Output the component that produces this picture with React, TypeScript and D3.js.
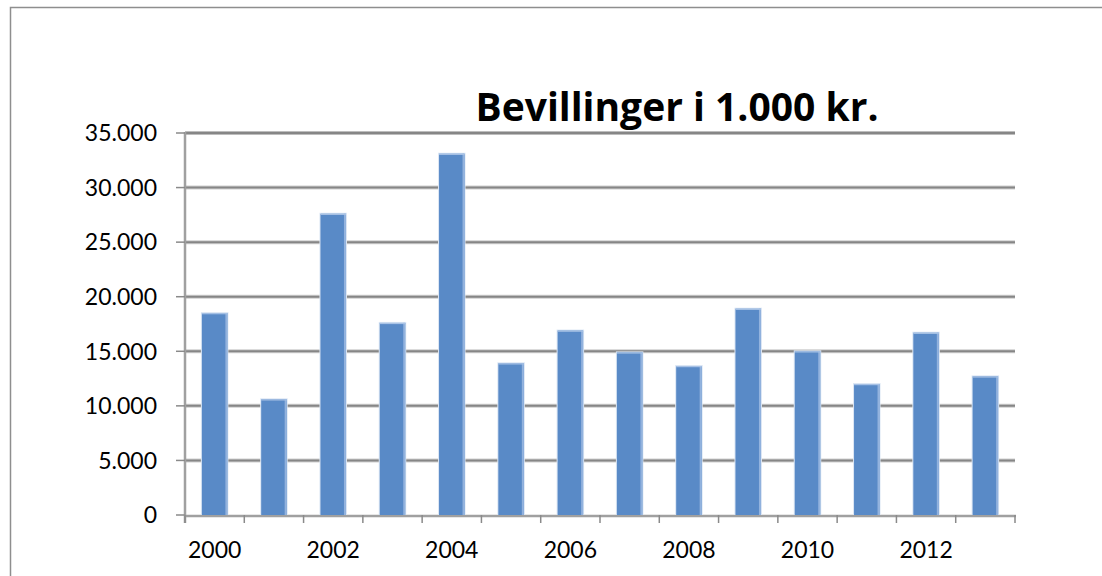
import React, { useEffect, useRef } from 'react';
import * as d3 from 'd3';

const years = ['2000', '2001', '2002', '2003', '2004', '2005', '2006', '2007', '2008', '2009', '2010', '2011', '2012', '2013'];
const values = [18500, 10600, 27600, 17600, 33100, 13900, 16900, 14900, 13650, 18900, 15000, 12000, 16700, 12700];
const yTicks = [0, 5000, 10000, 15000, 20000, 25000, 30000, 35000];
const xLabels = ['2000', '2002', '2004', '2006', '2008', '2010', '2012'];
const title = 'Bevillinger i 1.000 kr.';

const W = 1102;
const H = 576;

export default function App() {
  const ref = useRef<SVGSVGElement>(null);

  useEffect(() => {
    const svg = d3.select(ref.current);
    svg.selectAll('*').remove();

    const left = 185, right = 1015, top = 133, bottom = 515;
    const font = 'Lato, "Open Sans", sans-serif';

    // outer chart border (only top and left visible)
    svg.append('path')
      .attr('d', `M10.5,${H} L10.5,7.5 L${W},7.5`)
      .attr('fill', 'none')
      .attr('stroke', '#8e8e8e')
      .attr('stroke-width', 1.5);

    const x = d3.scaleBand<string>()
      .domain(years)
      .range([left, right])
      .paddingInner(0.57)
      .paddingOuter(0.285);

    const y = d3.scaleLinear()
      .domain([0, 35000])
      .range([bottom, top]);

    // gridlines
    const grid = svg.append('g');
    yTicks.filter(t => t > 0).forEach(t => {
      grid.append('line')
        .attr('x1', left).attr('x2', right)
        .attr('y1', y(t)).attr('y2', y(t))
        .attr('stroke', '#cfcfcf').attr('stroke-width', 4);
      grid.append('line')
        .attr('x1', left).attr('x2', right)
        .attr('y1', y(t)).attr('y2', y(t))
        .attr('stroke', '#868686').attr('stroke-width', t === 35000 ? 2.5 : 2);
    });

    // y axis line + ticks
    svg.append('line')
      .attr('x1', left).attr('x2', left)
      .attr('y1', top - 1).attr('y2', bottom + 8)
      .attr('stroke', '#a0a0a0').attr('stroke-width', 2.5);
    yTicks.forEach(t => {
      svg.append('line')
        .attr('x1', left - 9).attr('x2', left)
        .attr('y1', y(t)).attr('y2', y(t))
        .attr('stroke', '#8a8a8a').attr('stroke-width', 1.5);
      svg.append('text')
        .attr('x', 157)
        .attr('y', y(t))
        .attr('dy', '0.36em')
        .attr('text-anchor', 'end')
        .attr('font-family', font)
        .attr('font-size', 23)
        .attr('fill', '#000')
        .text(d3.format(',')(t).replace(/,/g, '.'));
    });

    // x axis line + ticks at category boundaries
    svg.append('line')
      .attr('x1', left - 1).attr('x2', right + 1)
      .attr('y1', bottom + 1).attr('y2', bottom + 1)
      .attr('stroke', '#a0a0a0').attr('stroke-width', 2.5);
    const step = x.step();
    d3.range(years.length + 1).forEach(i => {
      const xt = left + i * step;
      svg.append('line')
        .attr('x1', xt).attr('x2', xt)
        .attr('y1', bottom).attr('y2', bottom + 8)
        .attr('stroke', '#8a8a8a').attr('stroke-width', 1.5);
    });

    // bars
    const bars = svg.append('g');
    years.forEach((yr, i) => {
      const bx = x(yr)!;
      const bw = x.bandwidth();
      const by = y(values[i]);
      bars.append('rect')
        .attr('x', bx - 1).attr('y', by - 1)
        .attr('width', bw + 2).attr('height', bottom - by + 1)
        .attr('fill', '#dbe6f4');
      bars.append('rect')
        .attr('x', bx).attr('y', by)
        .attr('width', bw).attr('height', bottom - by)
        .attr('fill', '#598ac7');
      bars.append('rect')
        .attr('x', bx + bw - 2).attr('y', by)
        .attr('width', 2).attr('height', bottom - by)
        .attr('fill', '#93b3de');
      bars.append('rect')
        .attr('x', bx).attr('y', by)
        .attr('width', bw).attr('height', 1.2)
        .attr('fill', '#a9c3e6');
    });

    // x labels
    xLabels.forEach(l => {
      svg.append('text')
        .attr('x', x(l)! + x.bandwidth() / 2)
        .attr('y', 558)
        .attr('text-anchor', 'middle')
        .attr('font-family', font)
        .attr('font-size', 23)
        .attr('fill', '#000')
        .text(l);
    });

    // title
    svg.append('text')
      .attr('x', 677)
      .attr('y', 121)
      .attr('text-anchor', 'middle')
      .attr('font-family', '"Open Sans", Lato, sans-serif')
      .attr('font-weight', 'bold')
      .attr('font-size', 39)
      .attr('fill', '#000')
      .text(title);
  }, []);

  return (
    <svg
      ref={ref}
      width={W}
      height={H}
      style={{ position: 'absolute', left: 0, top: 0, background: '#fff', display: 'block' }}
    />
  );
}
